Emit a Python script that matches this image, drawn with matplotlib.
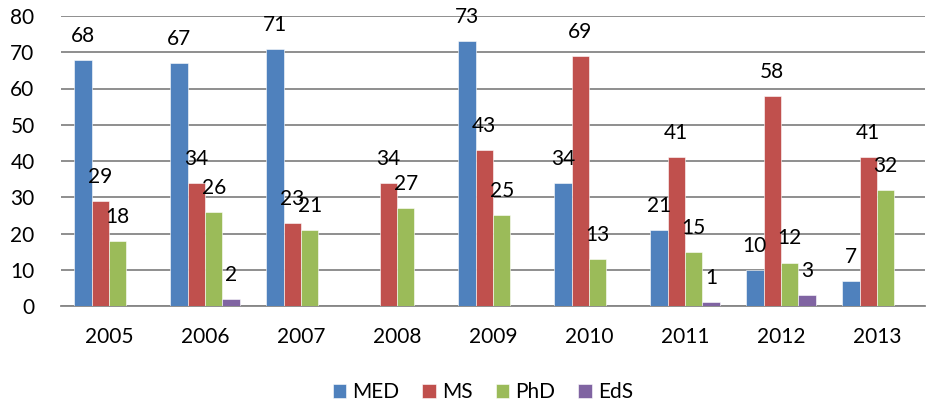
import matplotlib
matplotlib.use("Agg")
import matplotlib.pyplot as plt
import numpy as np

plt.rcParams['font.family'] = ['Lato', 'DejaVu Sans']

years = ['2005', '2006', '2007', '2008', '2009', '2010', '2011', '2012', '2013']
series_names = ['MED', 'MS', 'PhD', 'EdS']
med = [68, 67, 71, 0, 73, 34, 21, 10, 7]
ms = [29, 34, 23, 34, 43, 69, 41, 58, 41]
phd = [18, 26, 21, 27, 25, 13, 15, 12, 32]
eds = [0, 2, 0, 0, 0, 0, 1, 3, 0]
colors = ['#4F81BD', '#C0504D', '#9BBB59', '#8064A2']

fs = 15

fig = plt.figure(figsize=(9.3, 4.07), dpi=100)
ax = fig.add_axes([61 / 930, 101 / 407, 864 / 930, 290 / 407])

x = np.arange(len(years))
w = 0.182
for i, (vals, name, c) in enumerate(zip([med, ms, phd, eds], series_names, colors)):
    pos = x + (i - 1.5) * w
    ax.bar(pos, vals, width=w, color=c, label=name,
           edgecolor='#ffffff', linewidth=0.4, zorder=3)
    for xp, v in zip(pos, vals):
        if v > 0:
            ax.annotate(str(v), (xp, v), xytext=(0, 24), textcoords='offset pixels',
                        ha='center', va='center', fontsize=fs, color='black', zorder=4)

ax.set_xlim(-0.5, len(years) - 0.5)
ax.set_ylim(0, 80)
ax.set_yticks(range(0, 81, 10))
ax.set_xticks(x)
ax.set_xticklabels(years)
ax.yaxis.grid(True, color='#868686', linewidth=1.3, zorder=0)
ax.tick_params(axis='both', length=0, labelsize=fs)
ax.tick_params(axis='y', pad=19)
ax.tick_params(axis='x', pad=15)
for s in ['top', 'right', 'left']:
    ax.spines[s].set_visible(False)
ax.spines['bottom'].set_color('#868686')
ax.spines['bottom'].set_linewidth(1.3)

fig.legend(loc='center', bbox_to_anchor=(483 / 930, 1 - 392 / 407), ncol=4,
           frameon=False, fontsize=fs, handlelength=0.65, handleheight=0.65,
           handletextpad=0.3, columnspacing=1.1, borderpad=0)

fig.savefig('out.png', dpi=100)
